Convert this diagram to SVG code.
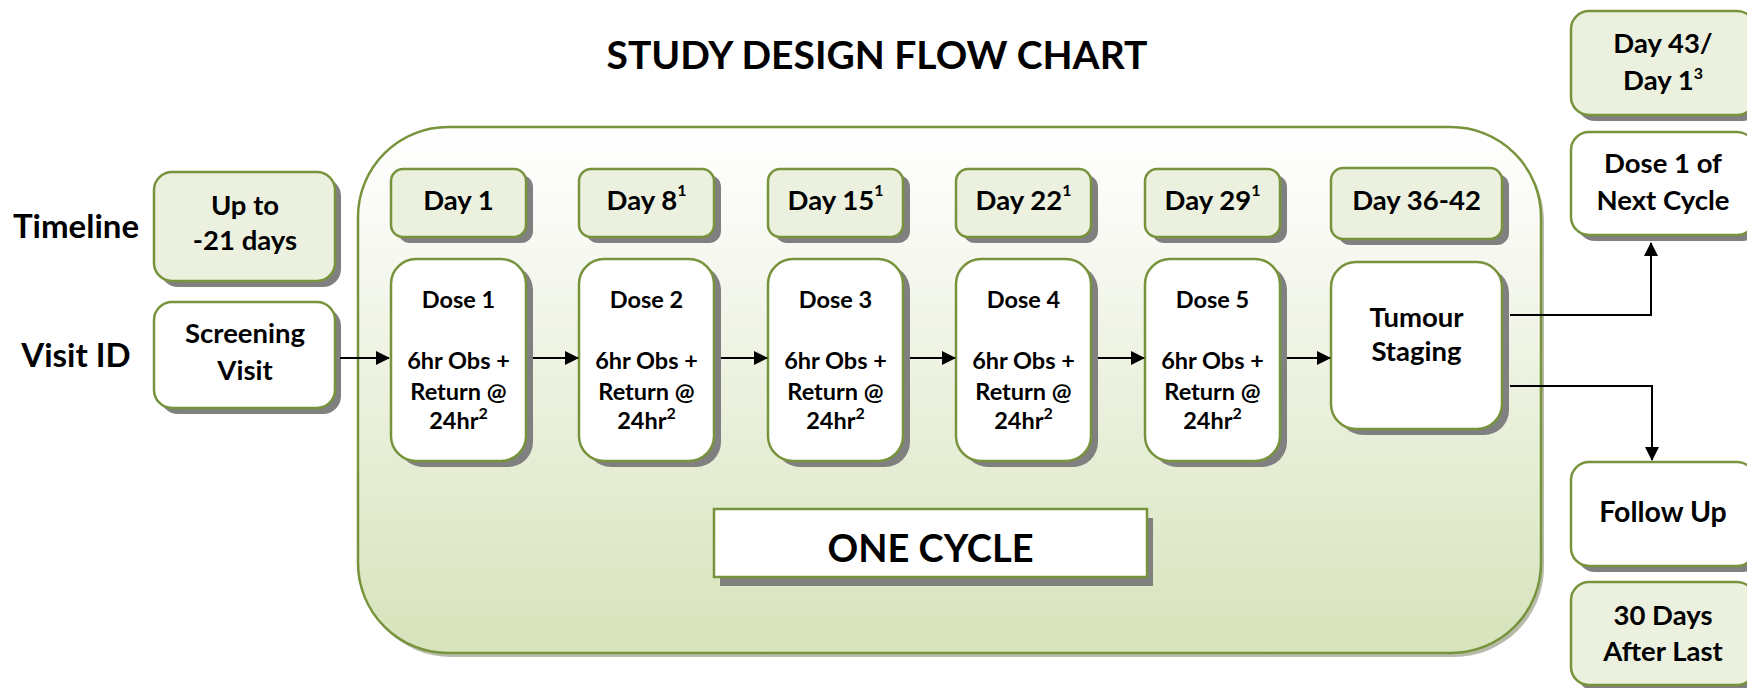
<svg xmlns="http://www.w3.org/2000/svg" width="1747" height="688" viewBox="0 0 1747 688">
<defs>
  <linearGradient id="cyc" x1="0" y1="0" x2="0" y2="1">
    <stop offset="0" stop-color="#ffffff"/>
    <stop offset="0.15" stop-color="#fafbf7"/>
    <stop offset="1" stop-color="#d7e3bb"/>
  </linearGradient>
  <marker id="arr" markerUnits="userSpaceOnUse" markerWidth="14" markerHeight="14" viewBox="0 0 14 14" refX="13" refY="7" orient="auto">
    <path d="M0,0 L14,7 L0,14 Z" fill="#000"/>
  </marker>
  <style>
    .g{fill:#ebf1de;stroke:#77933c;stroke-width:2.5}
    .w{fill:#ffffff;stroke:#77933c;stroke-width:2.5}
    .sh{fill:#808080}
    .t{font-family:Lato,"Liberation Sans",sans-serif;font-weight:700;fill:#000;text-anchor:middle}
    .b{font-size:27.5px}
    .d{font-size:23.5px}
    .s{font-size:16px}
    .c{fill:none;stroke:#000;stroke-width:2;marker-end:url(#arr)}
  </style>
</defs>
<rect width="1747" height="688" fill="#fff"/>

<g id="title"><text class="t" x="877" y="69" font-size="39">STUDY DESIGN FLOW CHART</text></g>
<g id="label-timeline"><text class="t" x="76" y="238" font-size="33">Timeline</text></g>
<g id="label-visit"><text class="t" x="76" y="367" font-size="33">Visit ID</text></g>

<g id="cycle">
  <rect x="361" y="131" width="1183" height="526" rx="90" fill="#b7bcaa"/>
  <rect x="358" y="127" width="1183" height="526" rx="90" fill="url(#cyc)" stroke="#77933c" stroke-width="2.5"/>
</g>

<g id="upto">
  <rect class="sh" x="160" y="178" width="181" height="109" rx="18"/>
  <rect class="g" x="154" y="172" width="181" height="109" rx="18"/>
  <text class="t b" x="245" y="215">Up to</text>
  <text class="t b" x="245" y="250">-21 days</text>
</g>
<g id="screening">
  <rect class="sh" x="160" y="308" width="181" height="106" rx="18"/>
  <rect class="w" x="154" y="302" width="181" height="106" rx="18"/>
  <text class="t b" x="245" y="343">Screening</text>
  <text class="t b" x="245" y="380">Visit</text>
</g>

<g id="day1">
  <rect class="sh" x="398" y="175" width="135" height="68" rx="12"/>
  <rect class="g" x="391" y="169" width="135" height="68" rx="12"/>
  <text class="t b" x="458.5" y="210">Day 1</text>
</g>
<g id="day8">
  <rect class="sh" x="586" y="175" width="135" height="68" rx="12"/>
  <rect class="g" x="579" y="169" width="135" height="68" rx="12"/>
  <text class="t b" x="646.5" y="210">Day 8<tspan class="s" dy="-14">1</tspan></text>
</g>
<g id="day15">
  <rect class="sh" x="775" y="175" width="135" height="68" rx="12"/>
  <rect class="g" x="768" y="169" width="135" height="68" rx="12"/>
  <text class="t b" x="835.5" y="210">Day 15<tspan class="s" dy="-14">1</tspan></text>
</g>
<g id="day22">
  <rect class="sh" x="963" y="175" width="135" height="68" rx="12"/>
  <rect class="g" x="956" y="169" width="135" height="68" rx="12"/>
  <text class="t b" x="1023.5" y="210">Day 22<tspan class="s" dy="-14">1</tspan></text>
</g>
<g id="day29">
  <rect class="sh" x="1152" y="175" width="135" height="68" rx="12"/>
  <rect class="g" x="1145" y="169" width="135" height="68" rx="12"/>
  <text class="t b" x="1212.5" y="210">Day 29<tspan class="s" dy="-14">1</tspan></text>
</g>
<g id="day36">
  <rect class="sh" x="1338" y="174" width="171" height="71" rx="12"/>
  <rect class="g" x="1331" y="168" width="171" height="71" rx="12"/>
  <text class="t b" x="1416.5" y="210">Day 36-42</text>
</g>

<g id="dose1">
  <rect class="sh" x="398" y="265" width="135" height="202" rx="25"/>
  <rect class="w" x="391" y="259" width="135" height="202" rx="25"/>
  <text class="t d" x="458.5" y="308">Dose 1</text>
  <text class="t d" x="458.5" y="369">6hr Obs +</text>
  <text class="t d" x="458.5" y="400">Return @</text>
  <text class="t d" x="458.5" y="429">24hr<tspan class="s" dy="-10">2</tspan></text>
</g>
<g id="dose2">
  <rect class="sh" x="586" y="265" width="135" height="202" rx="25"/>
  <rect class="w" x="579" y="259" width="135" height="202" rx="25"/>
  <text class="t d" x="646.5" y="308">Dose 2</text>
  <text class="t d" x="646.5" y="369">6hr Obs +</text>
  <text class="t d" x="646.5" y="400">Return @</text>
  <text class="t d" x="646.5" y="429">24hr<tspan class="s" dy="-10">2</tspan></text>
</g>
<g id="dose3">
  <rect class="sh" x="775" y="265" width="135" height="202" rx="25"/>
  <rect class="w" x="768" y="259" width="135" height="202" rx="25"/>
  <text class="t d" x="835.5" y="308">Dose 3</text>
  <text class="t d" x="835.5" y="369">6hr Obs +</text>
  <text class="t d" x="835.5" y="400">Return @</text>
  <text class="t d" x="835.5" y="429">24hr<tspan class="s" dy="-10">2</tspan></text>
</g>
<g id="dose4">
  <rect class="sh" x="963" y="265" width="135" height="202" rx="25"/>
  <rect class="w" x="956" y="259" width="135" height="202" rx="25"/>
  <text class="t d" x="1023.5" y="308">Dose 4</text>
  <text class="t d" x="1023.5" y="369">6hr Obs +</text>
  <text class="t d" x="1023.5" y="400">Return @</text>
  <text class="t d" x="1023.5" y="429">24hr<tspan class="s" dy="-10">2</tspan></text>
</g>
<g id="dose5">
  <rect class="sh" x="1152" y="265" width="135" height="202" rx="25"/>
  <rect class="w" x="1145" y="259" width="135" height="202" rx="25"/>
  <text class="t d" x="1212.5" y="308">Dose 5</text>
  <text class="t d" x="1212.5" y="369">6hr Obs +</text>
  <text class="t d" x="1212.5" y="400">Return @</text>
  <text class="t d" x="1212.5" y="429">24hr<tspan class="s" dy="-10">2</tspan></text>
</g>
<g id="tumour">
  <rect class="sh" x="1338" y="268" width="171" height="167" rx="25"/>
  <rect class="w" x="1331" y="262" width="171" height="167" rx="25"/>
  <text class="t b" x="1416.5" y="327">Tumour</text>
  <text class="t b" x="1416.5" y="361">Staging</text>
</g>

<g id="onecycle">
  <rect class="sh" x="720" y="518" width="433" height="68"/>
  <rect x="714" y="509" width="433" height="68" fill="#fff" stroke="#77933c" stroke-width="2.5"/>
  <text class="t" x="930.5" y="562" font-size="38">ONE CYCLE</text>
</g>

<g id="day43">
  <rect class="sh" x="1577" y="17" width="184" height="104" rx="18"/>
  <rect class="g" x="1571" y="11" width="184" height="104" rx="18"/>
  <text class="t b" x="1663" y="53">Day 43/</text>
  <text class="t b" x="1663" y="90">Day 1<tspan class="s" dy="-11">3</tspan></text>
</g>
<g id="nextcycle">
  <rect class="sh" x="1577" y="138" width="184" height="103" rx="18"/>
  <rect class="w" x="1571" y="132" width="184" height="103" rx="18"/>
  <text class="t b" x="1663" y="173">Dose 1 of</text>
  <text class="t b" x="1663" y="210">Next Cycle</text>
</g>
<g id="followup">
  <rect class="sh" x="1577" y="468" width="184" height="104" rx="18"/>
  <rect class="w" x="1571" y="462" width="184" height="104" rx="18"/>
  <text class="t" x="1663" y="522" font-size="28.5">Follow Up</text>
</g>
<g id="days30">
  <rect class="sh" x="1577" y="588" width="184" height="103" rx="18"/>
  <rect class="g" x="1571" y="582" width="184" height="103" rx="18"/>
  <text class="t b" x="1663" y="625">30 Days</text>
  <text class="t b" x="1663" y="661">After Last</text>
</g>

<g id="connectors">
  <line class="c" x1="340" y1="358" x2="389" y2="358"/>
  <line class="c" x1="533" y1="358" x2="578" y2="358"/>
  <line class="c" x1="721" y1="358" x2="767" y2="358"/>
  <line class="c" x1="910" y1="358" x2="955" y2="358"/>
  <line class="c" x1="1098" y1="358" x2="1144" y2="358"/>
  <line class="c" x1="1287" y1="358" x2="1330" y2="358"/>
  <polyline class="c" points="1510,315 1651,315 1651,243"/>
  <polyline class="c" points="1510,386 1652,386 1652,460"/>
</g>
</svg>
